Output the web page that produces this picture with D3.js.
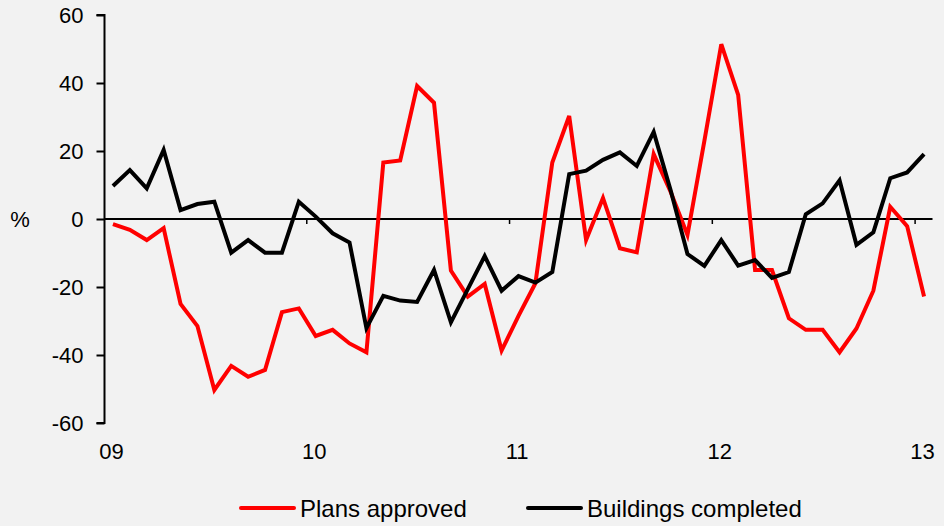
<!DOCTYPE html>
<html>
<head>
<meta charset="utf-8">
<script src="https://cdn.jsdelivr.net/npm/d3@7"></script>
<style>
  body { margin: 0; background: #f2f2f2; }
  svg { display: block; font-family: "Liberation Sans", Arial, sans-serif; }
</style>
</head>
<body>
<script>
// months Jan 2009 .. Jan 2013
const months = d3.range(49).map(i => {
    const y = 2009 + Math.floor(i / 12)
    const m = (i % 12) + 1
    return `${y}-${String(m).padStart(2, "0")}`
})

const plansApproved = [
    -1.5, -3.2, -6.2, -2.7, -25.0, -31.5, -50.3, -43.2, -46.4, -44.4, -27.4, -26.3,
    -34.4, -32.6, -36.6, -39.2, 16.6, 17.2, 39.1, 34.2, -15.2, -22.8, -19.1, -38.7,
    -28.5, -18.9, 16.6, 30.3, -6.2, 6.2, -8.6, -9.8, 19.1, 8.0, -4.7, 23.0,
    51.4, 36.5, -15.0, -15.0, -29.2, -32.6, -32.6, -39.2, -32.2, -21.1, 3.6, -2.1,
    -22.8
]

const buildingsCompleted = [
    9.7, 14.4, 9.0, 20.3, 2.6, 4.4, 5.1, -9.9, -6.2, -9.9, -9.9, 5.1,
    0.7, -4.2, -6.9, -32.1, -22.6, -24.0, -24.4, -15.0, -30.4, -20.6, -10.9, -21.1,
    -16.8, -18.7, -15.6, 13.2, 14.2, 17.4, 19.6, 15.6, 25.6, 8.5, -10.3, -13.8,
    -6.2, -13.7, -12.1, -17.3, -15.6, 1.4, 4.6, 11.4, -7.6, -3.9, 12.0, 13.7,
    19.1
]

const yTicks = [-60, -40, -20, 0, 20, 40, 60]
const yearLabels = ["09", "10", "11", "12", "13"]

const series = [
    { name: "Plans approved", color: "#ff0000", values: plansApproved },
    { name: "Buildings completed", color: "#000000", values: buildingsCompleted }
]

const width = 944
const height = 526
const margin = { top: 15, right: 11.5, bottom: 103, left: 104.5 }

const svg = d3.select("body").append("svg")
    .attr("width", width)
    .attr("height", height)

svg.append("rect")
    .attr("width", width)
    .attr("height", height)
    .attr("fill", "#f2f2f2")

const x = d3.scaleBand()
    .domain(months)
    .range([margin.left, width - margin.right])
    .padding(0)

const y = d3.scaleLinear()
    .domain([-60, 60])
    .range([height - margin.bottom, margin.top])

const xMid = d => x(d) + x.bandwidth() / 2

// y axis
const yAxis = svg.append("g")
    .attr("transform", `translate(${margin.left},0)`)
    .call(d3.axisLeft(y).tickValues(yTicks).tickSize(8).tickPadding(13).tickFormat(d => String(d)))

yAxis.select(".domain")
    .attr("stroke", "#000")
    .attr("stroke-width", 2)
    .attr("d", `M-8,${y(60)}H0V${y(-60)}H-8`)
yAxis.selectAll(".tick line").attr("stroke", "#000").attr("stroke-width", 2)
yAxis.selectAll(".tick text")
    .attr("font-size", 22)
    .attr("fill", "#000")
    .attr("font-family", "Liberation Sans, Arial, sans-serif")

svg.append("text")
    .attr("x", 20)
    .attr("y", y(0))
    .attr("dy", "0.35em")
    .attr("text-anchor", "middle")
    .attr("font-size", 22)
    .text("%")

// zero line with year ticks
const janMonths = months.filter(m => m.endsWith("-01"))
const xAxis = svg.append("g")
    .attr("transform", `translate(0,${y(0)})`)

xAxis.append("line")
    .attr("x1", x.range()[0])
    .attr("x2", x.range()[1])
    .attr("stroke", "#000")
    .attr("stroke-width", 2)

xAxis.selectAll(".yt")
    .data(janMonths.slice(1))
    .enter()
    .append("line")
    .attr("x1", d => x(d) - 0.5)
    .attr("x2", d => x(d) - 0.5)
    .attr("y1", 0)
    .attr("y2", 5)
    .attr("stroke", "#000")
    .attr("stroke-width", 1.5)

// year labels under the chart
svg.append("g")
    .selectAll("text")
    .data(janMonths)
    .enter()
    .append("text")
    .attr("x", (d, i) => x(d) + 7)
    .attr("y", 459)
    .attr("text-anchor", "middle")
    .attr("font-size", 22)
    .text((d, i) => yearLabels[i])

// lines
const line = d3.line()
    .x((d, i) => xMid(months[i]))
    .y(d => y(d))

svg.append("g")
    .selectAll("path")
    .data(series)
    .enter()
    .append("path")
    .attr("d", d => line(d.values))
    .attr("fill", "none")
    .attr("stroke", d => d.color)
    .attr("stroke-width", 4)
    .attr("stroke-linejoin", "miter")

// legend
const legendPos = [241, 528]
const legend = svg.append("g")
    .selectAll("g")
    .data(series)
    .enter()
    .append("g")
    .attr("transform", (d, i) => `translate(${legendPos[i]},508)`)

legend.append("line")
    .attr("x1", 0)
    .attr("x2", 53)
    .attr("stroke", d => d.color)
    .attr("stroke-width", 4)
    .attr("stroke-linecap", "round")

legend.append("text")
    .attr("x", 59)
    .attr("y", 9)
    .attr("font-size", 24)
    .text(d => d.name)
</script>
</body>
</html>
